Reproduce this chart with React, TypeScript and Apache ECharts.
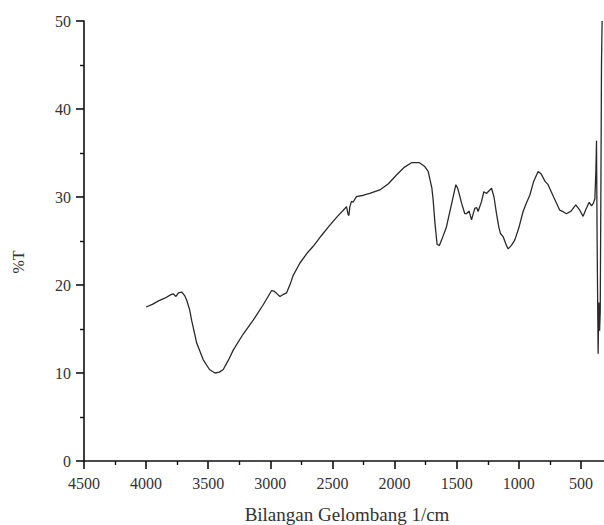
import React, { useEffect, useRef } from "react";
import * as echarts from "echarts";

const wavenumbers = [
  4000, 3950, 3900, 3850, 3800, 3782, 3760, 3740, 3714, 3690, 3674, 3650, 3634, 3593, 3540, 3490, 3446, 3410, 3379, 3340,
  3299, 3220, 3138, 3060, 2991, 2970, 2950, 2923, 2900, 2870, 2840, 2816, 2762, 2700, 2655, 2590, 2521, 2460, 2400, 2387,
  2374, 2368, 2360, 2347, 2335, 2307, 2250, 2200, 2119, 2050, 1985, 1920, 1864, 1800, 1760, 1730, 1700, 1690, 1675, 1658,
  1640, 1622, 1583, 1545, 1507, 1490, 1461, 1435, 1422, 1400, 1381, 1355, 1340, 1328, 1300, 1282, 1261, 1220, 1200, 1180,
  1160, 1148, 1127, 1100, 1086, 1060, 1033, 1000, 966, 940, 912, 880, 845, 820, 790, 765, 720, 671, 640, 617,
  580, 542, 510, 483, 460, 434, 415, 400, 388, 380, 375, 370, 362, 356, 350, 345, 340, 335, 330,
];
const transmittance = [
  17.5, 17.8, 18.2, 18.5, 18.9, 19.0, 18.7, 19.1, 19.2, 18.8, 18.3, 17.2, 16.0, 13.4, 11.5, 10.4, 10.0, 10.1, 10.4, 11.4,
  12.6, 14.4, 16.0, 17.7, 19.35, 19.3, 19.05, 18.7, 18.9, 19.1, 20.1, 21.1, 22.5, 23.7, 24.4, 25.6, 26.8, 27.8, 28.7, 28.9,
  28.0, 27.9, 28.9, 29.5, 29.4, 30.05, 30.2, 30.4, 30.8, 31.5, 32.5, 33.4, 33.9, 33.9, 33.5, 32.9, 31.0, 29.7, 27.0, 24.6,
  24.5, 25.1, 26.6, 29.0, 31.4, 30.9, 29.3, 28.1, 28.1, 28.4, 27.4, 28.7, 28.8, 28.35, 29.5, 30.6, 30.4, 31.0, 30.0, 28.1,
  26.5, 25.85, 25.5, 24.5, 24.1, 24.5, 25.1, 26.5, 28.35, 29.3, 30.2, 31.8, 32.9, 32.6, 31.8, 31.4, 30.0, 28.5, 28.3, 28.1,
  28.4, 29.1, 28.5, 27.8, 28.6, 29.4, 29.0, 29.3, 29.8, 33.0, 36.4, 25.0, 12.2, 18.0, 14.8, 17.0, 30.0, 45.0, 50.0,
];

const xAxisTitle = "Bilangan Gelombang 1/cm";
const yAxisTitle = "%T";

export default function App() {
  const ref = useRef<HTMLDivElement>(null);
  useEffect(() => {
    if (!ref.current) return;
    const chart = echarts.init(ref.current, null, { renderer: "svg" });
    const font = "'Liberation Serif', 'Times New Roman', serif";
    const data = wavenumbers.map((w, i) => [w, transmittance[i]]);
    chart.setOption({
      animation: false,
      backgroundColor: "#fff",
      grid: { left: 84, top: 21, height: 440, width: 559.1, outerBoundsMode: "none", containLabel: false },
      xAxis: {
        type: "value",
        inverse: true,
        min: 0,
        max: 4500,
        interval: 500,
        axisLine: { show: true, onZero: false, lineStyle: { color: "#111", width: 1.6 } },
        axisTick: { show: true, length: 8, lineStyle: { color: "#111", width: 1.6 } },
        minorTick: { show: true, splitNumber: 2, length: 4, lineStyle: { color: "#111", width: 1.4 } },
        splitLine: { show: false },
        axisLabel: {
          color: "#333",
          fontFamily: font,
          fontSize: 16,
          margin: 14,
          formatter: (v: number) => (v === 0 ? "" : String(v)),
        },
      },
      yAxis: {
        type: "value",
        min: 0,
        max: 50,
        interval: 10,
        axisLine: { show: true, onZero: false, lineStyle: { color: "#111", width: 1.6 } },
        axisTick: { show: true, length: 8, lineStyle: { color: "#111", width: 1.6 } },
        minorTick: { show: true, splitNumber: 2, length: 4, lineStyle: { color: "#111", width: 1.4 } },
        splitLine: { show: false },
        axisLabel: { color: "#333", fontFamily: font, fontSize: 16, margin: 13 },
      },
      graphic: [
        {
          type: "text",
          x: 347,
          y: 514,
          style: {
            text: xAxisTitle,
            font: `19px ${font}`,
            fill: "#333",
            textAlign: "center",
            textVerticalAlign: "middle",
          },
        },
        {
          type: "text",
          x: 18,
          y: 262,
          rotation: Math.PI / 2,
          style: {
            text: yAxisTitle,
            font: `16px ${font}`,
            fill: "#333",
            textAlign: "center",
            textVerticalAlign: "middle",
          },
        },
      ],
      series: [
        {
          type: "line",
          data,
          showSymbol: false,
          smooth: false,
          clip: true,
          lineStyle: { color: "#2a2a2a", width: 1.3 },
        },
      ],
    });
    return () => chart.dispose();
  }, []);
  return (
    <div
      ref={ref}
      style={{ position: "absolute", left: 0, top: 0, width: 604, height: 525, overflow: "hidden" }}
    />
  );
}
